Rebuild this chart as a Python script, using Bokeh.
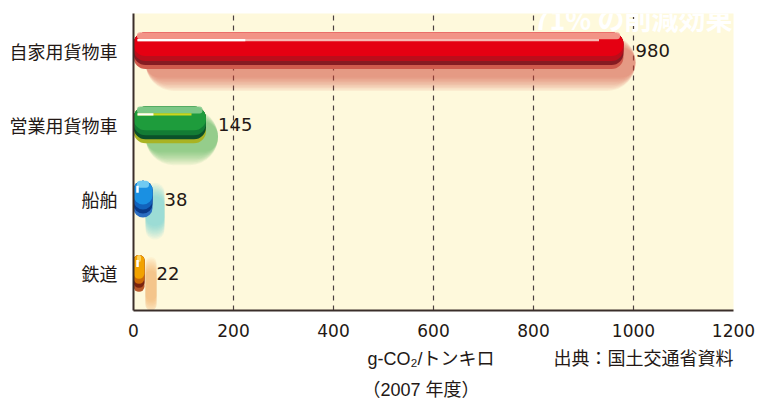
from bokeh.plotting import figure
from bokeh.models import ColumnDataSource, Range1d, FixedTicker, Title
from bokeh.core.properties import value
from bokeh.embed import file_html
from bokeh.resources import INLINE

# CO2 emissions per ton-km by freight mode (FY2007)
categories = ["自家用貨物車", "営業用貨物車", "船舶", "鉄道"]
emissions = [980, 145, 38, 22]
x_ticks = [0, 200, 400, 600, 800, 1000, 1200]

# colour scheme for each bar, from the glossy top down to the shadow
light_colors = ["#f3a394", "#86cc8e", "#7ad0f4", "#fbd566"]
main_colors = ["#e50012", "#1e9c3c", "#1a90e2", "#f2a200"]
mid_colors = ["#bb0d1a", "#137c34", "#1262bc", "#cc6a08"]
dark_colors = ["#861b22", "#0b502a", "#0a3a88", "#7a2410"]
edge_colors = ["#cf5a4c", "#a9b324", "#2a6cc0", "#b8582a"]
gloss_colors = ["#f7b9b3", "#cbd61c", "#ffffff", "#ffffff"]
shadow_colors = ["#db4a34", "#3aa84a", "#4cc2d2", "#eb9f48"]

JP = "Noto Sans CJK JP"
NUM = "DejaVu Sans"
NOTE_FONT = "Liberation Sans, Noto Sans CJK JP"
INK = "#231815"

X_PX = 600 / 1200.0   # pixels per emission unit
Y_PX = 298 / 4.0      # pixels per category band
BAR_PX = 37           # bar thickness in pixels


def dy(px_from_top):
    """offset (in category units) of a point px_from_top below the bar top"""
    return (BAR_PX / 2.0 - px_from_top) / Y_PX


def h(px):
    return px / Y_PX


def u(px):
    return px / X_PX


ypos = [len(categories) - 1 - i for i in range(len(categories))]

src = ColumnDataSource(dict(
    y=ypos, v=emissions,
    light=light_colors, main=main_colors, mid=mid_colors, dark=dark_colors,
    edge=edge_colors, gloss=gloss_colors, shadow=shadow_colors,
    label=[str(v) for v in emissions],
    y_shadow=[y - h(12) for y in ypos],
    sh_left=[u(12) for _ in emissions],
    sh_right=[v + u(12) for v in emissions],
    y_dark=[y + dy(16.5) for y in ypos],
    y_mid=[y + dy(14.5) for y in ypos],
    y_main=[y + dy(12) for y in ypos],
    y_light=[y + dy(3.5) for y in ypos],
    band_left=[u(3.5) for _ in emissions],
    band_right=[v - u(3.5) for v in emissions],
))

# gloss streaks: a horizontal line on long bars, a short tick on stubby ones
long_idx = [i for i, v in enumerate(emissions) if v * X_PX > 40]
short_idx = [i for i, v in enumerate(emissions) if v * X_PX <= 40]
gloss_long = ColumnDataSource(dict(
    y=[ypos[i] + dy(8) for i in long_idx],
    white_right=[u(4) + 0.22 * emissions[i] for i in long_idx],
    tint_right=[0.8 * emissions[i] if emissions[i] < 500 else 0.95 * emissions[i] for i in long_idx],
    tint=[gloss_colors[i] for i in long_idx],
))
gloss_short = ColumnDataSource(dict(
    x=[u(4) for _ in short_idx],
    y=[ypos[i] + dy(8.5) for i in short_idx],
))

p = figure(width=769, height=401, output_backend="svg", toolbar_location=None,
           x_range=Range1d(0, 1200), y_range=Range1d(-0.5, 3.5),
           min_border_left=133, min_border_right=36,
           min_border_top=13, min_border_bottom=90)
p.background_fill_color = "#fef9dc"
p.border_fill_color = "white"
p.outline_line_color = None

# axes
p.xaxis.ticker = FixedTicker(ticks=x_ticks)
p.yaxis.ticker = FixedTicker(ticks=ypos)
p.yaxis.major_label_overrides = {y: c for y, c in zip(ypos, categories)}
for ax in (p.xaxis[0], p.yaxis[0]):
    ax.axis_line_color = "#3a2e2a"
    ax.axis_line_width = 2
    ax.major_tick_line_color = None
    ax.minor_tick_line_color = None
    ax.major_label_text_color = INK
p.xaxis.major_label_text_font = NUM
p.xaxis.major_label_text_font_size = "17px"
p.xaxis.major_label_standoff = 7
p.yaxis.major_label_text_font = JP
p.yaxis.major_label_text_font_size = "18px"
p.yaxis.major_label_standoff = 10

p.ygrid.grid_line_color = None
p.xgrid.ticker = FixedTicker(ticks=x_ticks[1:-1])
p.xgrid.grid_line_color = "#4a4040"
p.xgrid.grid_line_dash = "5 5"
p.xgrid.grid_line_width = 1.2

# blurred drop shadow: offset copies of the bar, widest and faintest first
for grow in range(20, -10, -3):
    p.hbar(y="y_shadow", left="sh_left", right="sh_right", height=h(BAR_PX + grow),
           source=src, fill_color="shadow", fill_alpha=0.07, line_color=None,
           border_radius=(BAR_PX + grow) // 2)

# glossy bar built from stacked layers
p.hbar(y="y", left=0, right="v", height=h(BAR_PX), source=src,
       fill_color="edge", line_color=None, border_radius=12)
p.hbar(y="y_dark", left=0, right="v", height=h(33), source=src,
       fill_color="dark", line_color=None, border_radius=12)
p.hbar(y="y_mid", left=0, right="v", height=h(29), source=src,
       fill_color="mid", line_color=None, border_radius=12)
p.hbar(y="y_main", left=0, right="v", height=h(24), source=src,
       fill_color="main", line_color=None, border_radius=12)
p.hbar(y="y_light", left="band_left", right="band_right", height=h(7), source=src,
       fill_color="light", fill_alpha=0.9, line_color=None, border_radius=3)

p.hbar(y="y", left=u(4), right="tint_right", height=h(2.2), source=gloss_long,
       fill_color="tint", line_color=None)
p.hbar(y="y", left=u(4), right="white_right", height=h(2.2), source=gloss_long,
       fill_color="white", line_color=None)
p.rect(x="x", y="y", width=2.5, height=7, width_units="screen", height_units="screen",
       source=gloss_short, fill_color="white", line_color=None)

# value labels
p.text(x="v", y="y", text="label", source=src, x_offset=12,
       text_baseline="middle", text_align="left",
       text_font=value(NUM), text_font_size="18px", text_color=INK)

# headline partly tucked behind the top edge of the frame
p.text(x=[1200], y=[3.5 - h(25)], text=["71% の削減効果"], x_offset=-1,
       text_align="right", text_baseline="bottom", text_font=value(JP),
       text_font_style="bold", text_font_size="27px", text_color="white")

# unit / source notes under the axis (first added sits closest to the axis)
unit_line = "g-CO₂/トンキロ" + "\u3000\u3000\u3000 " + "出典：国土交通省資料"
for text, offset, standoff in [(unit_line, 234, 15), ("（2007 年度）", 229, 3)]:
    p.add_layout(Title(text=text, align="left", offset=offset, standoff=standoff,
                       text_font=NOTE_FONT, text_font_size="18px",
                       text_font_style="normal", text_color=INK), "below")

open("out.html", "w").write(file_html(p, INLINE))
